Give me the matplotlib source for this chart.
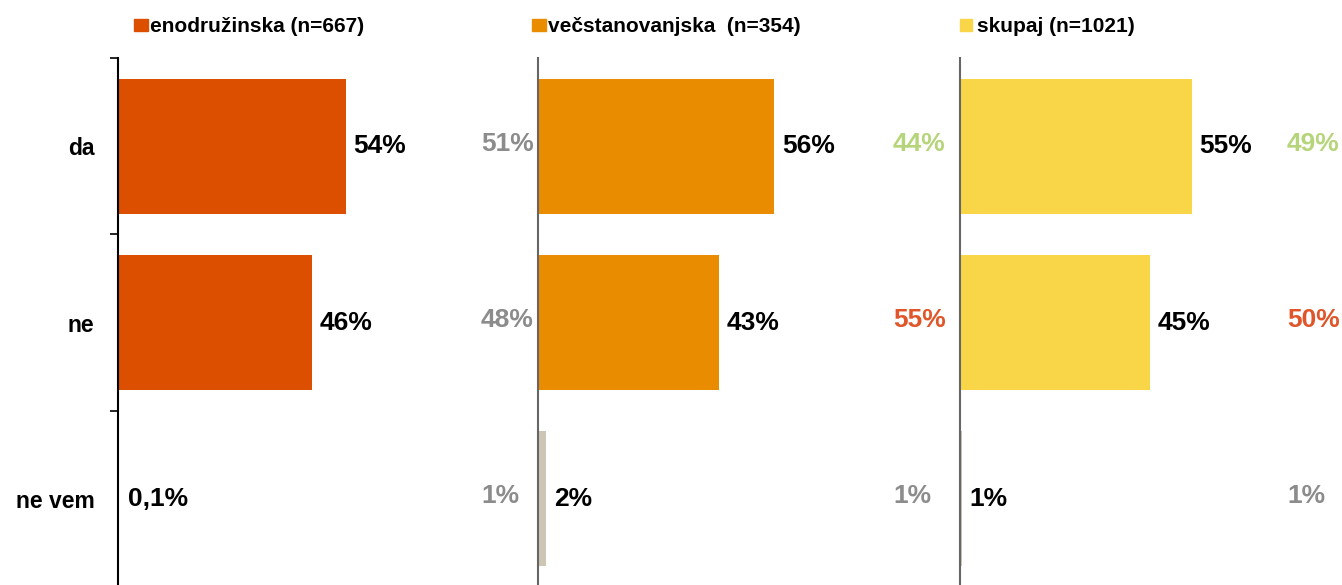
import matplotlib.pyplot as plt
from matplotlib.patches import Rectangle
import matplotlib.transforms as mtransforms

plt.rcParams['font.family'] = ['Liberation Sans', 'DejaVu Sans']
plt.rcParams['font.weight'] = 'bold'

categories = ['da', 'ne', 'ne vem']
groups = ['enodružinska (n=667)', 'večstanovanjska  (n=354)', 'skupaj (n=1021)']

# bar lengths (%) and printed labels
enodruzinska = [54, 46, 0.1]
vecstanovanjska = [56, 43, 2]
skupaj = [55, 45, 0.4]
value_labels = [['54%', '46%', '0,1%'],
                ['56%', '43%', '2%'],
                ['55%', '45%', '1%']]

# comparison figures printed beside the panels
cmp_left_2 = ['51%', '48%', '1%']
cmp_left_3 = ['44%', '55%', '1%']
cmp_right_3 = ['49%', '50%', '1%']

colors = ['#DC4E00', '#EA8C00', '#F9D548']
nevem_color = '#CEC6B4'
grey = '#8C8C8C'
green = '#B6D57B'
red = '#E0562A'
cmp_colors = [green, red, grey]

W, H = 1342, 585
fig = plt.figure(figsize=(W / 100, H / 100), dpi=100)

px_per_pct = 4.22
xmax = 80
ax_left = [118, 538, 960]
ax_top, ax_bot = 58, 587

series = [enodruzinska, vecstanovanjska, skupaj]
axes = []
for i, vals in enumerate(series):
    ax = fig.add_axes([ax_left[i] / W, 1 - ax_bot / H,
                       xmax * px_per_pct / W, (ax_bot - ax_top) / H])
    ax.set_facecolor('none')
    bar_cols = [colors[i], colors[i], nevem_color]
    ax.barh(range(3), vals, height=0.765, color=bar_cols)
    ax.set_xlim(0, xmax)
    ax.set_ylim(2.5, -0.5)
    for s in ['top', 'right', 'bottom']:
        ax.spines[s].set_visible(False)
    ax.set_xticks([])
    for j, v in enumerate(vals):
        ax.text(v + 1.8 if v > 1 else 2.3, j, value_labels[i][j],
                va='center', ha='left', fontsize=19, fontweight='bold',
                color='black')
    if i == 0:
        ax.spines['left'].set_color('black')
        ax.spines['left'].set_linewidth(1.5)
        ax.set_yticks([-0.5, 0.5, 1.5, 2.5])
        ax.set_yticklabels([])
        ax.tick_params(axis='y', which='major', length=6, width=1.2,
                       direction='out')
        ax.set_yticks(range(3), labels=categories, minor=True)
        ax.tick_params(axis='y', which='minor', length=0, pad=17,
                       labelsize=16.5)
    else:
        ax.spines['left'].set_color('#666666')
        ax.spines['left'].set_linewidth(1.5)
        ax.set_yticks([])
    axes.append(ax)

# comparison labels
def cmp_text(ax, xpix, labels, cols):
    tr = mtransforms.blended_transform_factory(fig.transFigure, ax.transData)
    for j, lab in enumerate(labels):
        fig.text(xpix / W, j - 0.015, lab, transform=tr, ha='left',
                 va='center', fontsize=19, fontweight='bold', color=cols[j])

cmp_text(axes[1], 481, cmp_left_2, [grey, grey, grey])
cmp_text(axes[2], 893, cmp_left_3, cmp_colors)
cmp_text(axes[2], 1287, cmp_right_3, cmp_colors)

# legend boxes
leg_sq = [(134, 14), (532, 14), (960, 12)]
leg_txt_x = [150, 548, 977]
for i, name in enumerate(groups):
    x0, w = leg_sq[i]
    fig.patches.append(Rectangle((x0 / W, 1 - 31 / H), w / W, 12 / H,
                                 transform=fig.transFigure,
                                 color=colors[i]))
    fig.text(leg_txt_x[i] / W, 1 - 27 / H, name, ha='left', va='center',
             fontsize=15, fontweight='bold', color='black')

fig.savefig('out.png', dpi=100)
